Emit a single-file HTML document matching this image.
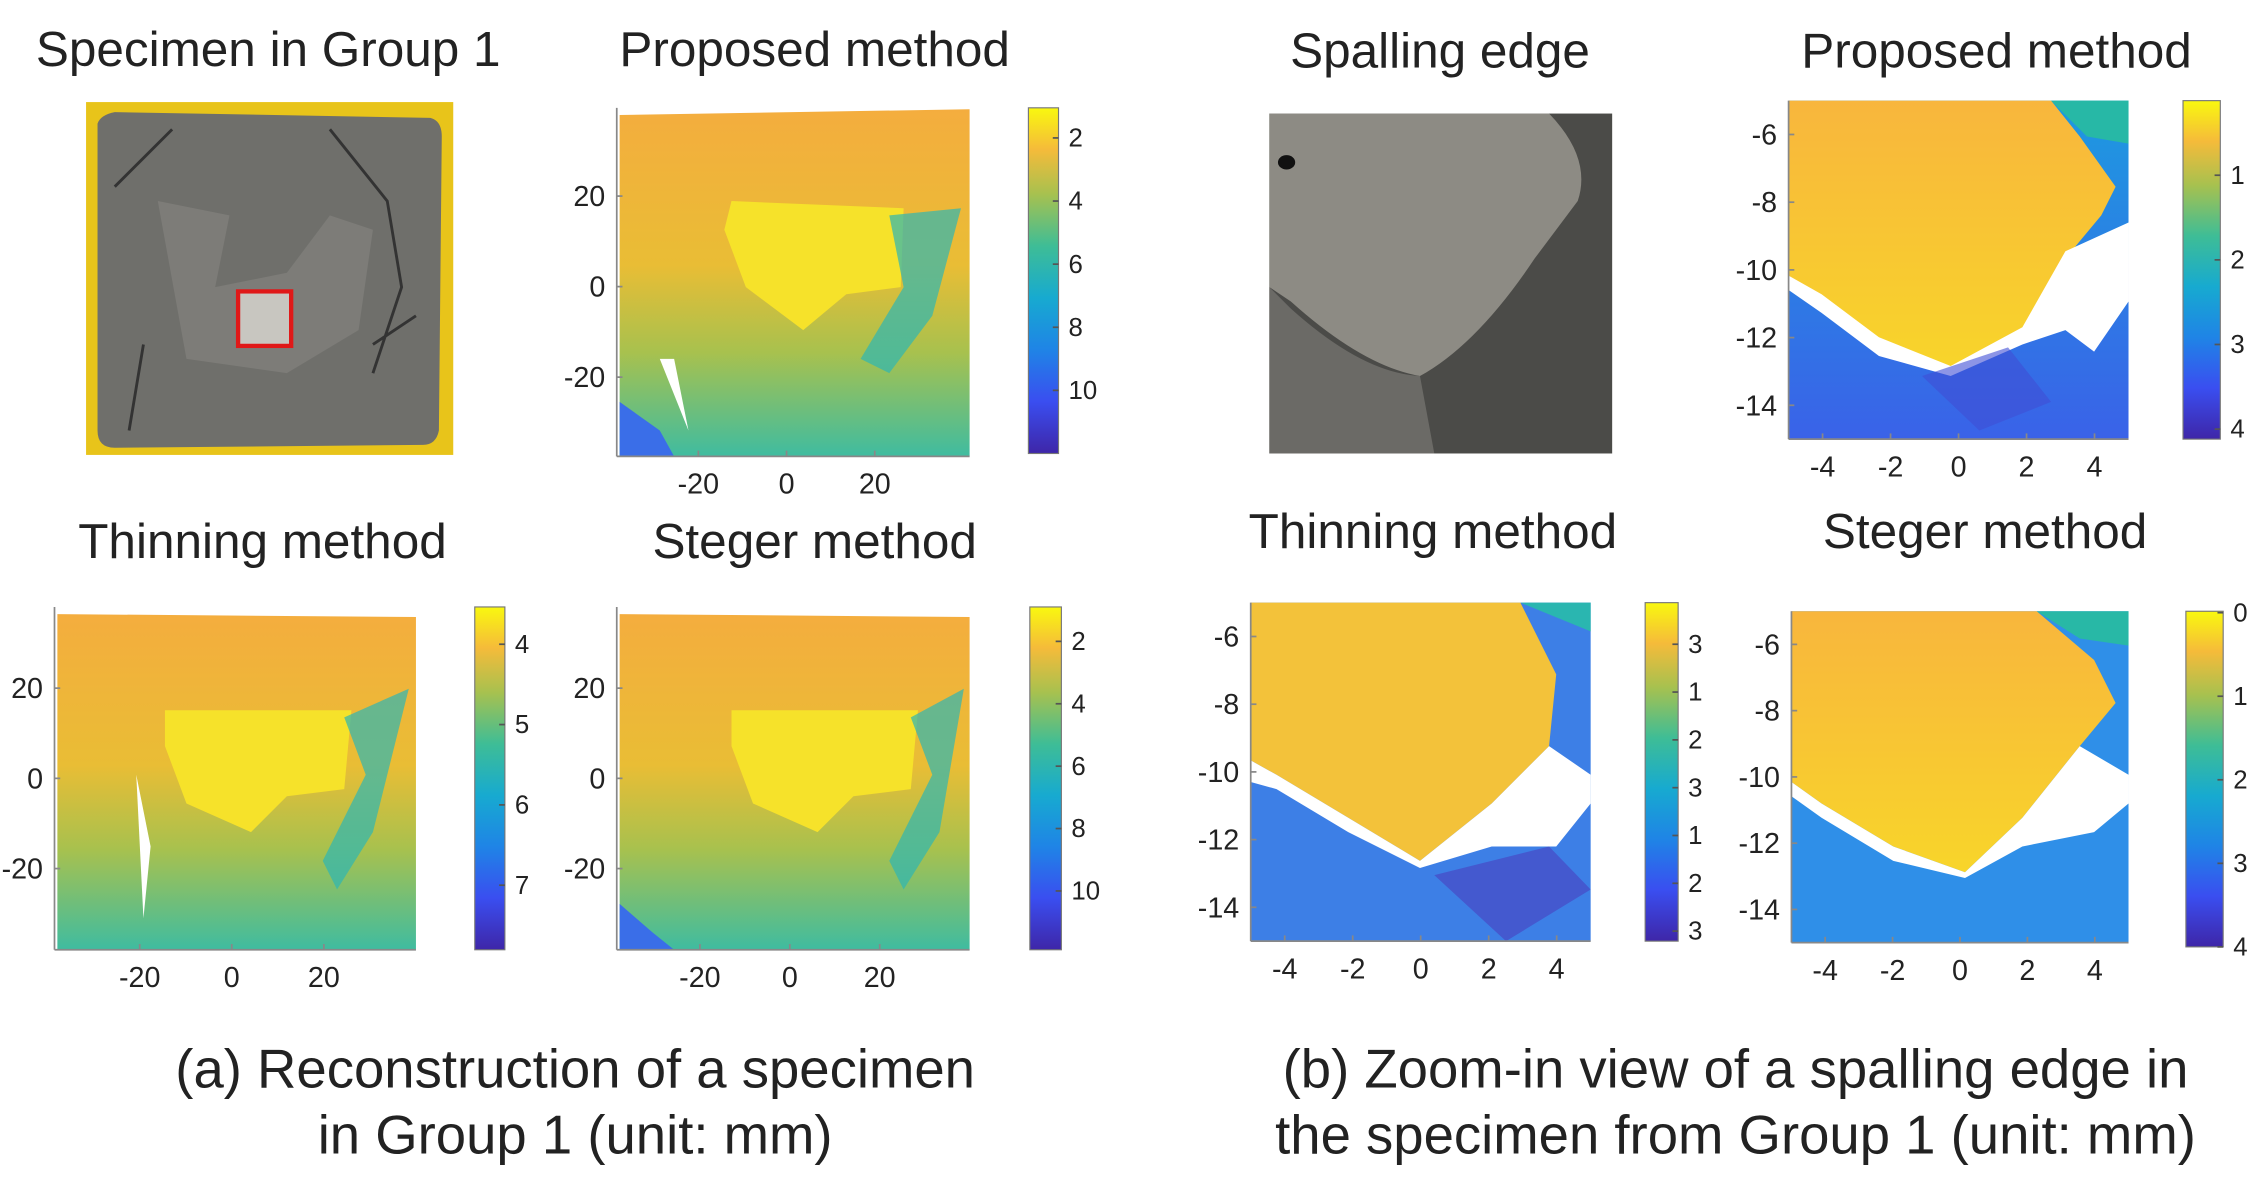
<!DOCTYPE html>
<html><head><meta charset="utf-8"><style>
html,body{margin:0;padding:0;background:#fff;}
svg{display:block;font-family:"Liberation Sans",Arial,sans-serif;}
</style></head><body>
<svg id="fig" width="2249" height="1201" viewBox="0 0 1568 837" xmlns="http://www.w3.org/2000/svg">
<defs>
<linearGradient id="parula" x1="0" y1="1" x2="0" y2="0">
<stop offset="0" stop-color="#3e26a8"/><stop offset="0.15" stop-color="#3a4ef0"/>
<stop offset="0.3" stop-color="#1f84e6"/><stop offset="0.45" stop-color="#17aad0"/>
<stop offset="0.6" stop-color="#3ebd96"/><stop offset="0.75" stop-color="#a7c14f"/>
<stop offset="0.88" stop-color="#f5bb3a"/><stop offset="1" stop-color="#f9f80f"/>
</linearGradient>
<linearGradient id="leftfill" x1="0" y1="0" x2="0" y2="1">
<stop offset="0" stop-color="#f4ad3e"/><stop offset="0.45" stop-color="#e9bd35"/>
<stop offset="0.7" stop-color="#a8c14e"/><stop offset="1" stop-color="#3fbca0"/>
</linearGradient>
<linearGradient id="rightfill" x1="0" y1="0" x2="0" y2="1">
<stop offset="0" stop-color="#f8b63d"/><stop offset="1" stop-color="#f8d52a"/>
</linearGradient>
<linearGradient id="bluefill" x1="0" y1="0" x2="0" y2="1">
<stop offset="0" stop-color="#1d9ae0"/><stop offset="1" stop-color="#3a62e8"/>
</linearGradient>
</defs>
<g font-size="34.5" fill="#222" text-anchor="middle">
<text x="187" y="46">Specimen in Group 1</text>
<text x="568" y="46">Proposed method</text>
<text x="183" y="389">Thinning method</text>
<text x="568" y="389">Steger method</text>
<text x="1004" y="47">Spalling edge</text>
<text x="1392" y="47">Proposed method</text>
<text x="999" y="382">Thinning method</text>
<text x="1384" y="382">Steger method</text>
</g>
<g font-size="38" fill="#222" text-anchor="middle">
<text x="401" y="758">(a) Reconstruction of a specimen</text>
<text x="401" y="804">in Group 1 (unit: mm)</text>
<text x="1210" y="758">(b) Zoom-in view of a spalling edge in</text>
<text x="1210" y="804">the specimen from Group 1 (unit: mm)</text>
</g>
<g>
<rect x="60" y="71" width="256" height="246" fill="#e8c41a"/>
<path d="M68 86 Q70 80 80 78 L300 82 Q308 84 308 95 L306 300 Q304 310 295 310 L80 312 Q68 312 68 300 Z" fill="#6f6f6b"/>
<path d="M110 140 L160 150 L150 200 L200 190 L230 150 L260 160 L250 230 L200 260 L130 250 Z" fill="#7d7c78"/>
<path d="M80 130 L120 90 M230 90 L270 140 L280 200 L260 260 M100 240 L90 300 M260 240 L290 220" stroke="#333" stroke-width="2" fill="none"/>
<rect x="166" y="203" width="37" height="38" fill="#c8c6c0" stroke="#e01818" stroke-width="3"/>
</g>
<g>
<rect x="885" y="79" width="239" height="237" fill="#4b4b48"/>
<path d="M885 79 L1080 79 Q1110 110 1100 140 L1070 180 Q1030 240 990 262 Q950 255 900 210 L885 200 Z" fill="#8d8b84"/>
<ellipse cx="897" cy="113" rx="6" ry="5" fill="#111"/>
<path d="M885 200 L900 215 Q950 260 990 262 L1000 316 L885 316 Z" fill="#6b6a66"/>
</g>
<g id="plotA1">
<path d="M432 80 L676 76 L676 318 L432 318 Z" fill="url(#leftfill)"/>
<path d="M510 140 L630 145 L628 200 L590 205 L560 230 L520 200 L505 160 Z" fill="#f6e22a"/>
<path d="M620 150 L670 145 L650 220 L620 260 L600 250 L630 200 Z" fill="#2db7b4" opacity="0.7"/>
<path d="M432 280 L460 300 L470 318 L432 318 Z" fill="#3a6ee8"/>
<path d="M460 250 L480 300 L470 250 Z" fill="#fff"/>
</g>
<g id="plotA2">
<path d="M40 428 L290 430 L290 662 L40 662 Z" fill="url(#leftfill)"/>
<path d="M115 495 L245 495 L240 550 L200 555 L175 580 L130 560 L115 520 Z" fill="#f6e22a"/>
<path d="M240 500 L285 480 L260 580 L235 620 L225 600 L255 540 Z" fill="#2db7b4" opacity="0.7"/>
<path d="M95 540 L105 590 L100 640 Z" fill="#fff"/>
</g>
<g id="plotA3">
<path d="M432 428 L676 430 L676 662 L432 662 Z" fill="url(#leftfill)"/>
<path d="M510 495 L640 495 L635 550 L595 555 L570 580 L525 560 L510 520 Z" fill="#f6e22a"/>
<path d="M635 500 L672 480 L655 580 L630 620 L620 600 L650 540 Z" fill="#2db7b4" opacity="0.7"/>
<path d="M432 630 L455 650 L470 662 L432 662 Z" fill="#3a6ee8"/>
</g>
<g id="plotB1">
<rect x="1247" y="70" width="237" height="236" fill="url(#bluefill)"/>
<path d="M1247 70 L1430 70 L1450 95 L1475 130 L1465 150 L1440 180 L1410 230 L1360 258 L1310 240 L1270 210 L1247 192 Z" fill="url(#rightfill)"/>
<path d="M1247 192 L1270 205 L1310 235 L1360 255 L1410 228 L1440 175 L1484 155 L1484 210 L1460 245 L1440 230 L1410 240 L1360 262 L1310 248 L1270 218 L1247 202 Z" fill="#fff"/>
<path d="M1430 70 L1484 70 L1484 100 L1455 95 Z" fill="#27b8a6"/>
<path d="M1340 262 L1400 242 L1430 280 L1380 300 Z" fill="#3f4fd6" opacity="0.6"/>
</g>
<g id="plotB2">
<rect x="872" y="420" width="237" height="236" fill="#3d7fe6"/>
<path d="M872 420 L1060 420 L1085 470 L1080 520 L1040 560 L990 600 L940 570 L890 540 L872 530 Z" fill="#f3c23a"/>
<path d="M872 530 L890 540 L940 570 L990 600 L1040 560 L1080 520 L1109 540 L1109 560 L1085 590 L1040 590 L990 605 L940 580 L890 550 L872 545 Z" fill="#fff"/>
<path d="M1060 420 L1109 420 L1109 440 Z" fill="#2ab6b0"/>
<path d="M1000 610 L1080 590 L1109 620 L1050 656 Z" fill="#4a3fc0" opacity="0.6"/>
</g>
<g id="plotB3">
<rect x="1249" y="426" width="235" height="231" fill="#2f8fe8"/>
<path d="M1249 426 L1420 426 L1460 460 L1475 490 L1450 520 L1410 570 L1370 608 L1320 590 L1270 560 L1249 545 Z" fill="url(#rightfill)"/>
<path d="M1249 545 L1270 560 L1320 590 L1370 608 L1410 570 L1450 520 L1484 540 L1484 560 L1460 580 L1410 590 L1370 612 L1320 600 L1270 570 L1249 555 Z" fill="#fff"/>
<path d="M1420 426 L1484 426 L1484 450 L1450 445 Z" fill="#28b8a6"/>
</g>
<g id="axes"></g>
</svg>
<script>
const yTicksA = [20, 0, -20];
const xTicksA = [-20, 0, 20];
const yTicksB = [-6, -8, -10, -12, -14];
const xTicksB = [-4, -2, 0, 2, 4];
const cbarA1 = ["2","4","6","8","10"];
const cbarA2 = ["4","5","6","7"];
const cbarA3 = ["2","4","6","8","10"];
const cbarB1 = ["1","2","3","4"];
const cbarB2 = ["3","1","2","3","1","2","3"];
const cbarB3 = ["0","1","2","3","4"];
const NS = "http://www.w3.org/2000/svg";
const g = document.getElementById('axes');
function txt(x,y,s,anchor,size){
  const t=document.createElementNS(NS,'text');
  t.setAttribute('x',x);t.setAttribute('y',y);t.setAttribute('font-size',size||20);
  t.setAttribute('text-anchor',anchor);t.setAttribute('fill','#222');t.textContent=s;
  
  
  g.appendChild(t);
}
function line(x1,y1,x2,y2,c){
  const l=document.createElementNS(NS,'line');
  l.setAttribute('x1',x1);l.setAttribute('y1',y1);l.setAttribute('x2',x2);l.setAttribute('y2',y2);
  l.setAttribute('stroke',c||'#888');l.setAttribute('stroke-width',1.2);
  
  
  g.appendChild(l);
}
function axes(p, xt, yt, xd, yd){
  const sx=v=>p.x0+(v-xd[0])/(xd[1]-xd[0])*(p.x1-p.x0);
  const sy=v=>p.y1-(v-yd[0])/(yd[1]-yd[0])*(p.y1-p.y0);
  line(p.x0,p.y0,p.x0,p.y1);line(p.x0,p.y1,p.x1,p.y1);
  xt.forEach(v=>{line(sx(v),p.y1,sx(v),p.y1-4);txt(sx(v),p.y1+26,String(v),'middle');});
  yt.forEach(v=>{line(p.x0,sy(v),p.x0+4,sy(v));txt(p.x0-8,sy(v)+7,String(v),'end');});
}
function cbar(x,y0,y1,w,labels,first,last){
  const r=document.createElementNS(NS,'rect');
  r.setAttribute('x',x);r.setAttribute('y',y0);r.setAttribute('width',w);r.setAttribute('height',y1-y0);
  r.setAttribute('fill','url(#parula)');r.setAttribute('stroke','#777');r.setAttribute('stroke-width',0.8);
  
  
  g.appendChild(r);
  labels.forEach((s,i)=>{
    const y=first+(last-first)*i/(labels.length-1||1);
    line(x+w-4,y,x+w,y,'#555');
    txt(x+w+7,y+6,s,'start',18);
  });
}
axes({x0:430,x1:676,y0:75,y1:318},xTicksA,yTicksA,[-38.5,41.5],[-37.5,39.5]);
axes({x0:38,x1:290,y0:423,y1:662},xTicksA,yTicksA,[-38.5,40],[-38,38]);
axes({x0:430,x1:676,y0:423,y1:662},xTicksA,yTicksA,[-38.5,40],[-38,38]);
axes({x0:1247,x1:1484,y0:70,y1:306},xTicksB,yTicksB,[-5,5],[-15,-5]);
axes({x0:872,x1:1109,y0:420,y1:656},xTicksB,yTicksB,[-5,5],[-15,-5]);
axes({x0:1249,x1:1484,y0:426,y1:657},xTicksB,yTicksB,[-5,5],[-15,-5]);
cbar(717,75,316,21,cbarA1,96,272);
cbar(331,423,662,21,cbarA2,449,617);
cbar(718,423,662,22,cbarA3,447,621);
cbar(1522,70,306,26,cbarB1,122,299);
cbar(1147,420,656,23,cbarB2,449,649);
cbar(1524,426,660,26,cbarB3,427,660);
</script>
</body></html>
